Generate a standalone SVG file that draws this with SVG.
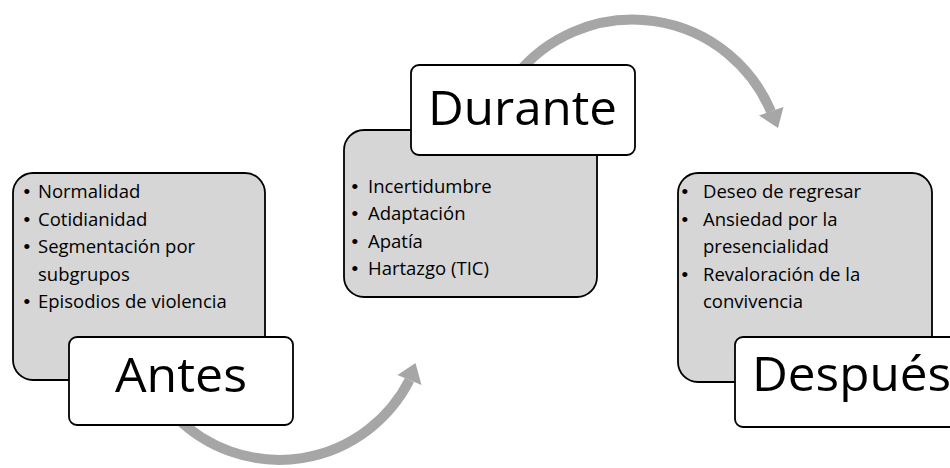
<svg xmlns="http://www.w3.org/2000/svg" width="950" height="468" viewBox="0 0 950 468">
<style>
.arc{fill:none;stroke:#a6a6a6;stroke-width:10}
.head{fill:#a6a6a6}
.gray{fill:#d6d6d6;stroke:#000;stroke-width:1.8}
.white{fill:#fff;stroke:#000;stroke-width:1.8}
.big{font-family:"Open Sans","Noto Sans",sans-serif;font-size:47px;fill:#000}
.sm{font-family:"Open Sans","Noto Sans",sans-serif;font-size:18.5px;fill:#000}
.bul{font-family:"Liberation Sans","Noto Sans",sans-serif;font-size:19px;fill:#000}
</style>
<rect width="950" height="468" fill="#fff"/>
<g id="connectors">
<path class="arc" d="M176,417 A146,146 0 0 0 409.5,380"/>
<polygon class="head" points="415.5,363 421.5,385 397.5,375"/>
<path class="arc" d="M516.3,75 A150,150 0 0 1 771,111.5"/>
<polygon class="head" points="778,128 783.5,107 759,115.5"/>
</g>
<g id="antes">
<rect class="gray" x="13" y="173" width="252" height="207" rx="20"/>
<text class="bul" x="23.5" y="198">•</text><text class="sm" x="38" y="198">Normalidad</text>
<text class="bul" x="23.5" y="225.5">•</text><text class="sm" x="38" y="225.5">Cotidianidad</text>
<text class="bul" x="23.5" y="253">•</text><text class="sm" x="38" y="253">Segmentación por</text>
<text class="sm" x="38" y="280.5">subgrupos</text>
<text class="bul" x="23.5" y="308">•</text><text class="sm" x="38" y="308">Episodios de violencia</text>
<rect class="white" x="69" y="337" width="224" height="88" rx="8"/>
<text class="big" x="115" y="392" textLength="132" lengthAdjust="spacingAndGlyphs">Antes</text>
</g>
<g id="durante">
<rect class="gray" x="344" y="130" width="253" height="167" rx="20"/>
<text class="bul" x="351.5" y="193">•</text><text class="sm" x="368" y="193">Incertidumbre</text>
<text class="bul" x="351.5" y="220">•</text><text class="sm" x="368" y="220">Adaptación</text>
<text class="bul" x="351.5" y="247.5">•</text><text class="sm" x="368" y="247.5">Apatía</text>
<text class="bul" x="351.5" y="275">•</text><text class="sm" x="368" y="275">Hartazgo (TIC)</text>
<rect class="white" x="411" y="65" width="224" height="90" rx="8"/>
<text class="big" x="428" y="125" textLength="189" lengthAdjust="spacingAndGlyphs">Durante</text>
</g>
<g id="despues">
<rect class="gray" x="678" y="173" width="254" height="209" rx="20"/>
<text class="bul" x="681.5" y="198">•</text><text class="sm" x="703" y="198">Deseo de regresar</text>
<text class="bul" x="681.5" y="225.5">•</text><text class="sm" x="703" y="225.5">Ansiedad por la</text>
<text class="sm" x="703" y="253">presencialidad</text>
<text class="bul" x="681.5" y="280.5">•</text><text class="sm" x="703" y="280.5">Revaloración de la</text>
<text class="sm" x="703" y="308">convivencia</text>
<rect class="white" x="735" y="337" width="224" height="90" rx="8"/>
<text class="big" x="752" y="391" textLength="199" lengthAdjust="spacingAndGlyphs">Después</text>
</g>
</svg>
